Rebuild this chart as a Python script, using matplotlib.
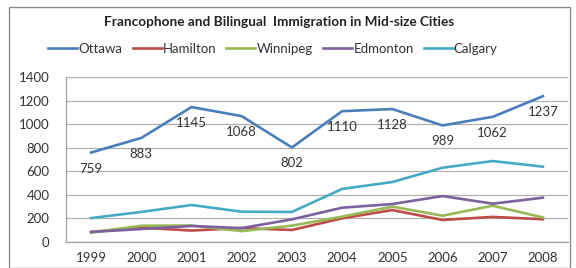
import matplotlib
matplotlib.use("Agg")
import matplotlib.pyplot as plt
from matplotlib.patches import Rectangle

years = ["1999", "2000", "2001", "2002", "2003", "2004", "2005", "2006", "2007", "2008"]
ottawa = [759, 883, 1145, 1068, 802, 1110, 1128, 989, 1062, 1237]
hamilton = [85, 122, 97, 118, 102, 201, 271, 187, 213, 193]
winnipeg = [80, 138, 140, 92, 139, 215, 300, 223, 308, 208]
edmonton = [85, 110, 136, 118, 192, 291, 322, 390, 325, 376]
calgary = [203, 255, 314, 257, 255, 450, 509, 630, 687, 639]

series = [
    ("Ottawa", ottawa, "#4A7EBB"),
    ("Hamilton", hamilton, "#BE4B48"),
    ("Winnipeg", winnipeg, "#98B954"),
    ("Edmonton", edmonton, "#7D60A0"),
    ("Calgary", calgary, "#46AAC5"),
]

plt.rcParams['font.family'] = ['Lato', 'DejaVu Sans']

fig = plt.figure(figsize=(5.76, 2.68), dpi=100)
fig.patches.append(Rectangle((9/576, 0.0), 0.99 - 9/576, 1 - 7/268 - 0.0,
                             transform=fig.transFigure, fill=False,
                             edgecolor="#8c8c8c", linewidth=1.0))
ax = fig.add_axes([66/576, 1 - 242/268, 502/576, 165/268])

x = list(range(len(years)))
handles = []
for name, vals, col in series:
    h, = ax.plot(x, vals, color=col, linewidth=1.9, label=name, solid_joinstyle='round')
    handles.append(h)

for xi, v in zip(x, ottawa):
    ax.annotate(str(v), (xi, v), xytext=(0, -11.5), textcoords="offset points",
                ha="center", va="center", fontsize=9.5, color="#333333")

ax.set_xlim(-0.5, len(years) - 0.5)
ax.set_ylim(0, 1400)
ax.set_yticks(range(0, 1401, 200))
ax.set_xticks(x)
ax.set_xticklabels(years)
ax.tick_params(axis='both', length=0, labelsize=9.5, colors="#333333")
ax.tick_params(axis='y', pad=12)
ax.tick_params(axis='x', pad=7)
ax.grid(axis='y', color="#b0b0b0", linewidth=0.9)
ax.set_axisbelow(True)
for s in ["top", "right"]:
    ax.spines[s].set_visible(False)
for s in ["left", "bottom"]:
    ax.spines[s].set_color("#a0a0a0")
    ax.spines[s].set_linewidth(0.9)

fig.text(0.485, 1 - 22/268, "Francophone and Bilingual  Immigration in Mid-size Cities",
         ha="center", va="center", fontsize=9.8, fontweight="bold", color="#222222")
fig.legend(handles=handles, loc="center", bbox_to_anchor=(0.474, 1 - 49/268), ncol=5,
           frameon=False, fontsize=9.5, handlelength=2.2, handletextpad=0.1,
           columnspacing=0.75, labelcolor="#333333")

fig.savefig("out.png", dpi=100)
